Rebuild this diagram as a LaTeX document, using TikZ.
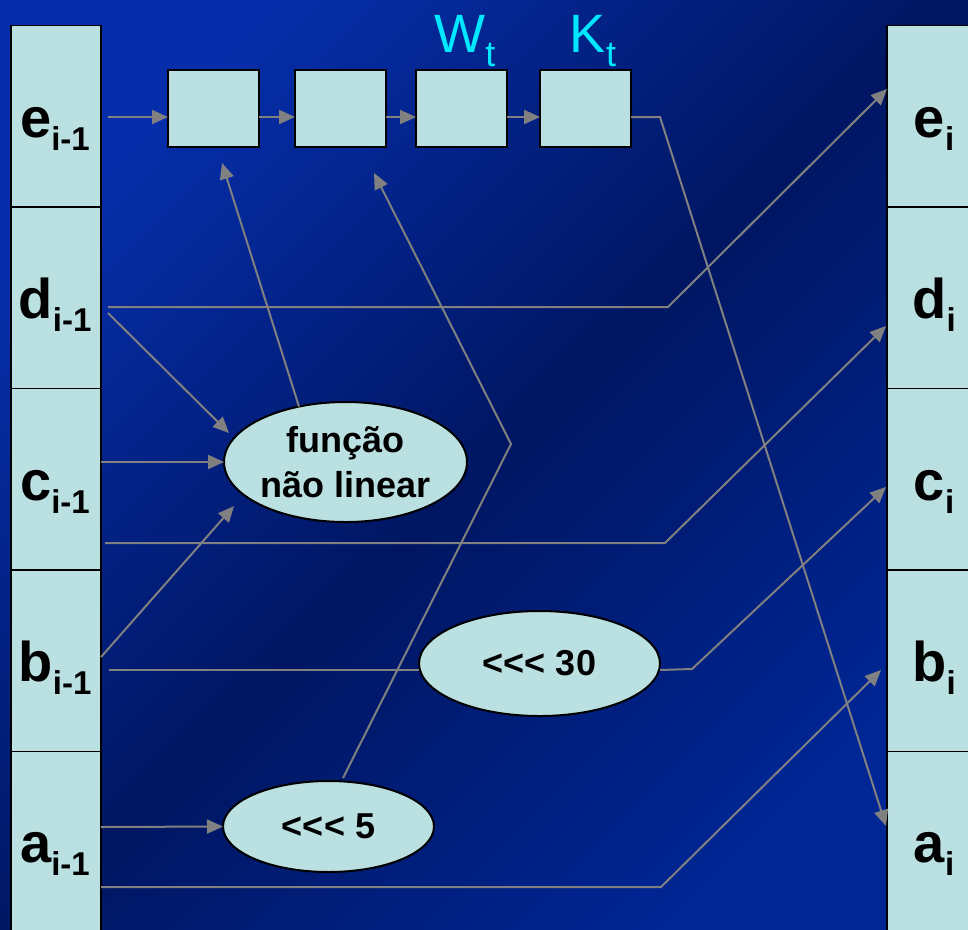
\documentclass[tikz,border=0pt]{standalone}
\usepackage{fontspec}
\setmainfont{Liberation Sans}
\usetikzlibrary{arrows.meta,shapes.geometric}
\definecolor{boxfill}{RGB}{186,224,225}
\definecolor{lgray}{RGB}{128,128,128}
\definecolor{wcyan}{RGB}{0,232,255}
\definecolor{bgA}{RGB}{6,46,170}
\definecolor{bgB}{RGB}{0,22,98}
\definecolor{bgC}{RGB}{0,38,150}
\newcommand\lblsub[1]{\raisebox{-13pt}{\fontsize{33}{33}\selectfont #1}}
\newcommand\wsub[1]{\raisebox{-14pt}{\fontsize{36}{36}\selectfont #1}}
\newcommand\rotl{<\kern0pt<\kern0pt<}
\begin{document}
\begin{tikzpicture}[x=1pt,y=-1pt,
  cell/.style={draw=black, line width=1.5pt, fill=boxfill, minimum width=90pt, minimum height=181.5pt, inner sep=0pt, outer sep=0pt},
  topbox/.style={draw=black, line width=2pt, fill=boxfill, minimum width=91pt, minimum height=77pt, inner sep=0pt, outer sep=0pt},
  oval/.style={ellipse, draw=black, line width=2pt, fill=boxfill, inner sep=0pt, outer sep=0pt},
  lbl/.style={font=\bfseries\fontsize{56}{56}\selectfont, anchor=base, inner sep=0pt},
  etext/.style={font=\bfseries\fontsize{36}{45}\selectfont, align=center, inner sep=0pt},
  wlbl/.style={font=\fontsize{54}{54}\selectfont, text=wcyan, anchor=base, inner sep=0pt},
  conn/.style={draw=lgray, line width=2pt},
  arr/.style={conn, -{Triangle[length=16pt,width=14pt]}},
]
\useasboundingbox (0,0) rectangle (968,929);
\shade[top color=bgA, bottom color=bgC, middle color=bgB, shading angle=45] (0,0) rectangle (968,929);

% left column
\node[cell] (L1) at (56,116) {};
\node[cell] (L2) at (56,297.5) {};
\node[cell] (L3) at (56,479) {};
\node[cell] (L4) at (56,660.5) {};
\node[cell] (L5) at (56,842) {};
% right column
\node[cell] (R1) at (932,116) {};
\node[cell] (R2) at (932,297.5) {};
\node[cell] (R3) at (932,479) {};
\node[cell] (R4) at (932,660.5) {};
\node[cell] (R5) at (932,842) {};

% labels
\node[lbl] (l1) at (55,137) {e\lblsub{i-1}};
\node[lbl] (l2) at (55,318) {d\lblsub{i-1}};
\node[lbl] (l3) at (55,500) {c\lblsub{i-1}};
\node[lbl] (l4) at (55,681) {b\lblsub{i-1}};
\node[lbl] (l5) at (55,862) {a\lblsub{i-1}};
\node[lbl] (r1) at (934,137) {e\lblsub{i}};
\node[lbl] (r2) at (934,318) {d\lblsub{i}};
\node[lbl] (r3) at (934,500) {c\lblsub{i}};
\node[lbl] (r4) at (934,681) {b\lblsub{i}};
\node[lbl] (r5) at (934,862) {a\lblsub{i}};

% top boxes
\node[topbox] (B1) at (213.5,108.5) {};
\node[topbox] (B2) at (340.5,108.5) {};
\node[topbox] (B3) at (461.5,108.5) {};
\node[topbox] (B4) at (585.5,108.5) {};
\node[wlbl] (W) at (465,52) {W\wsub{t}};
\node[wlbl] (K) at (593,52) {K\wsub{t}};

% ellipses
\node[oval, minimum width=243pt, minimum height=120pt] (F) at (345.5,462) {};
\node[etext] (Ft) at (F.center) {função\\não linear};
\node[oval, minimum width=241pt, minimum height=105pt] (S30) at (539.5,663.5) {};
\node[etext] (S30t) at (S30.center) {\rotl{} 30};
\node[oval, minimum width=211pt, minimum height=91pt] (S5) at (328.5,826.5) {};
\node[etext] (S5t) at (S5.center) {\rotl{} 5};

% coordinates
\coordinate (e0) at (108,117);
\coordinate (k1) at (660,117);
\coordinate (ta) at (886,826);
\coordinate (d0) at (108,307);
\coordinate (d1) at (668,307);
\coordinate (te) at (887,89);
\coordinate (d2) at (108,313);
\coordinate (tF1) at (229,433);
\coordinate (c0) at (101,462);
\coordinate (c1) at (105,543);
\coordinate (c2) at (665,543);
\coordinate (td) at (886,326);
\coordinate (b0) at (101,657);
\coordinate (tF2) at (234,506);
\coordinate (b1) at (109,670);
\coordinate (s1) at (692,669);
\coordinate (tc) at (886,487);
\coordinate (a0) at (101,827);
\coordinate (a1) at (101,887);
\coordinate (a2) at (661,887);
\coordinate (tb) at (881,670);
\coordinate (m0) at (343,778);
\coordinate (m1) at (511,444);
\coordinate (tB2) at (374,173);
\coordinate (tB1) at (222,163);

% connectors
\draw[arr] (e0) -- (B1.west |- e0);
\draw[arr] (B1.east |- e0) -- (B2.west |- e0);
\draw[arr] (B2.east |- e0) -- (B3.west |- e0);
\draw[arr] (B3.east |- e0) -- (B4.west |- e0);
\draw[arr] (B4.east |- e0) -- (k1) -- (ta);
\draw[arr] (d0) -- (d1) -- (te);
\draw[arr] (d2) -- (tF1);
\draw[arr] (c0) -- (F.west);
\draw[arr] (c1) -- (c2) -- (td);
\draw[arr] (b0) -- (tF2);
\draw[conn] (b1) -- (S30.west |- b1);
\draw[arr] (S30.east |- b1) -- (s1) -- (tc);
\draw[arr] (a0) -- (S5.west);
\draw[arr] (a1) -- (a2) -- (tb);
\draw[arr] (m0) -- (m1) -- (tB2);
\draw[arr] (F.130) -- (tB1);
\end{tikzpicture}
\end{document}
